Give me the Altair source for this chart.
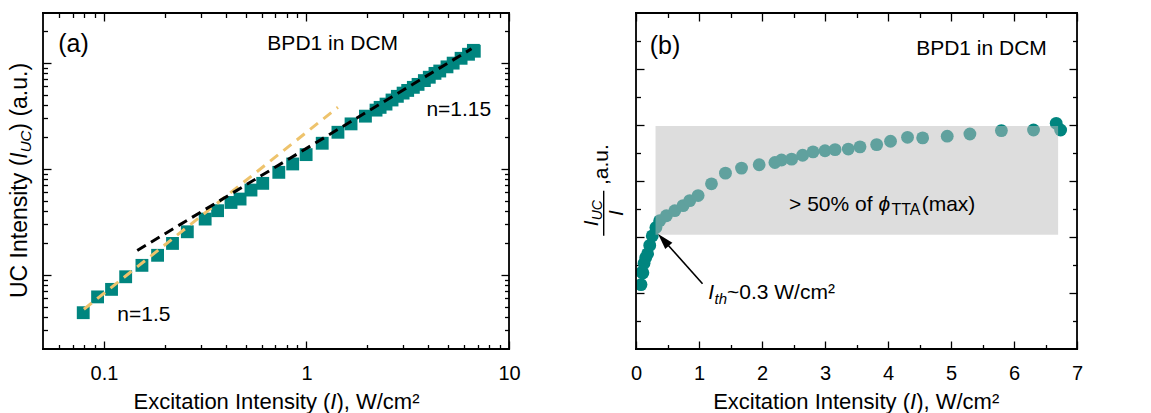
import altair as alt
import pandas as pd

FONT = "Liberation Sans"
TEAL = "#00857f"
ORANGE = "#eec36c"
FRAME_COLOR = "black"

# ---------------- panel (a) data ----------------
a_int = [0.079, 0.093, 0.109, 0.128, 0.154, 0.184, 0.218, 0.258, 0.316, 0.364,
         0.424, 0.47, 0.532, 0.608, 0.73, 0.855, 0.996, 1.196, 1.43, 1.66,
         1.955, 2.205, 2.31, 2.47, 2.645, 2.81, 3.0, 3.16, 3.37, 3.556,
         3.82, 4.04, 4.31, 4.55, 4.94, 5.30, 5.80, 6.31, 6.67, 6.74]
a_uc = [44, 62, 73, 96, 123, 153, 198, 255, 336, 403,
        482, 519, 631, 730, 927, 1112, 1362, 1743, 2213, 2655,
        3140, 3580, 3800, 4080, 4460, 4830, 5180, 5490, 5870, 6260,
        6800, 7310, 7950, 8370, 9160, 9930, 11030, 12040, 13110, 12860]
fit150_x = [0.0796, 1.43]
fit150_y = [47.4, 3810]
fit115_x = [0.146, 6.53]
fit115_y = [170, 13550]

a_x_major = [0.1, 1, 10]
a_x_minor = [0.06, 0.07, 0.08, 0.09, 0.2, 0.3, 0.4, 0.5, 0.6, 0.7, 0.8, 0.9,
             2, 3, 4, 5, 6, 7, 8, 9]
a_y_major = [100, 1000, 10000]
a_y_minor = [30, 40, 50, 60, 70, 80, 90, 200, 300, 400, 500, 600, 700, 800, 900,
             2000, 3000, 4000, 5000, 6000, 7000, 8000, 9000, 20000]

# ---------------- panel (b) data ----------------
b_int = [0.079, 0.093, 0.109, 0.128, 0.154, 0.184, 0.218, 0.258, 0.316, 0.376,
         0.482, 0.615, 0.747, 0.853, 0.986, 1.198, 1.42, 1.675, 1.955, 2.205,
         2.31, 2.47, 2.645, 2.81, 3.0, 3.16, 3.37, 3.556, 3.82, 4.04,
         4.31, 4.55, 4.94, 5.30, 5.80, 6.31, 6.67, 6.74]
b_ratio = [1.15, 1.37, 1.36, 1.53, 1.63, 1.70, 1.85, 2.02, 2.17, 2.29,
           2.38, 2.47, 2.56, 2.65, 2.74, 2.95, 3.14, 3.23, 3.29, 3.33,
           3.375, 3.39, 3.46, 3.52, 3.54, 3.56, 3.57, 3.61, 3.65, 3.71,
           3.78, 3.77, 3.80, 3.84, 3.90, 3.91, 4.03, 3.91]
band_x = [0.31, 6.70]
band_y = [2.04, 3.98]
arrow_tail = [1.056, 1.166]
arrow_head = [0.436, 1.948]

b_x_major = [0, 1, 2, 3, 4, 5, 6, 7]
b_x_minor = [0.5, 1.5, 2.5, 3.5, 4.5, 5.5, 6.5]
b_y_major = [1, 2, 3, 4, 5]
b_y_minor = [0.5, 1.5, 2.5, 3.5, 4.5, 5.5]

W = {' ': 278, '%': 889, '(': 333, ')': 333, ',': 278, '.': 278, '/': 278,
     '=': 584, '>': 584, '~': 584, 'A': 667, 'B': 667, 'C': 722, 'D': 722,
     'E': 667, 'I': 278, 'M': 833, 'P': 667, 'T': 611, 'U': 722, 'W': 944,
     'a': 556, 'c': 500, 'e': 556, 'f': 278, 'h': 556, 'i': 222, 'm': 833,
     'n': 556, 'o': 556, 's': 500, 't': 278, 'u': 556, 'x': 500, 'y': 500,
     '\u00b2': 333, '\u03d5': 620}
for d in "0123456789":
    W[d] = 556


def tw(s, size):
    return sum(W.get(ch, 556) for ch in s) * size / 1000.0


def axis(orient, values, size, labels=False, pad=30, expr=None):
    kw = dict(orient=orient, values=values, tickSize=size, offset=-size,
              domain=False, grid=False, labels=labels, title=None, ticks=True,
              tickColor="black", tickWidth=1.3)
    if labels:
        kw.update(labelFont=FONT, labelFontSize=20, labelColor="black",
                  labelPadding=pad, labelBaseline="alphabetic",
                  labelFlush=False, labelOverlap=False)
        if expr:
            kw["labelExpr"] = expr
    return alt.Axis(**kw)


def data_text(text, x, y, xs, ys, size=21, style="normal", dx=0, dy=0):
    df = pd.DataFrame({"x": [x], "y": [y]})
    return alt.Chart(df).mark_text(
        text=text, font=FONT, fontSize=size, fontStyle=style, align="left",
        baseline="alphabetic", dx=dx, dy=dy, color="black"
    ).encode(x=alt.X("x:Q", scale=xs, axis=None), y=alt.Y("y:Q", scale=ys, axis=None))


def px_text(text, x, y, size=22, style="normal", angle=0):
    return alt.Chart(alt.Data(values=[{}])).mark_text(
        text=text, font=FONT, fontSize=size, fontStyle=style, align="left",
        baseline="alphabetic", angle=angle, color="black"
    ).encode(x=alt.value(x), y=alt.value(y))


def x_title(center, base):
    parts = [("Excitation Intensity (", "normal"), ("I", "italic"), ("), W/cm\u00b2", "normal")]
    size = 22
    total = sum(tw(p, size) for p, _ in parts)
    x0 = center - total / 2
    out = []
    for p, st in parts:
        out.append(px_text(p, x0, base, size, st))
        x0 += tw(p, size)
    return out


def ghost(df, xs, ys, xax, yax):
    return alt.Chart(df).mark_point(opacity=0).encode(
        x=alt.X("x:Q", scale=xs, axis=xax), y=alt.Y("y:Q", scale=ys, axis=yax))


def frame(w, h):
    def rule(**enc):
        return alt.Chart(alt.Data(values=[{}])).mark_rule(
            color=FRAME_COLOR, strokeWidth=1.8, strokeCap="square").encode(**enc)
    return [
        rule(x=alt.value(0), y=alt.value(0), y2=alt.value(h)),
        rule(x=alt.value(w), y=alt.value(0), y2=alt.value(h)),
        rule(y=alt.value(0), x=alt.value(0), x2=alt.value(w)),
        rule(y=alt.value(h), x=alt.value(0), x2=alt.value(w)),
    ]


# ================= panel (a) =================
AW, AH = 466, 336
xs_a = alt.Scale(type="log", domain=[0.05, 10], nice=False)
ys_a = alt.Scale(type="log", domain=[20, 29500], nice=False)
df_a = pd.DataFrame({"x": a_int, "y": a_uc})

lab_a = "datum.value < 1 ? format(datum.value, '.1f') : format(datum.value, 'd')"
squares = alt.Chart(df_a).mark_square(size=165, color=TEAL, opacity=1).encode(
    x=alt.X("x:Q", scale=xs_a, axis=axis("bottom", a_x_major, 8, True, 30, lab_a)),
    y=alt.Y("y:Q", scale=ys_a, axis=axis("left", a_y_major, 8)))

ga1 = ghost(df_a, xs_a, ys_a, axis("bottom", a_x_minor, 4.5), axis("left", a_y_minor, 4.5))
ga2 = ghost(df_a, xs_a, ys_a, axis("top", a_x_major, 8), axis("right", a_y_major, 8))
ga3 = ghost(df_a, xs_a, ys_a, axis("top", a_x_minor, 4.5), axis("right", a_y_minor, 4.5))

orange = alt.Chart(pd.DataFrame({"x": fit150_x, "y": fit150_y})).mark_line(
    color=ORANGE, strokeWidth=3, strokeDash=[10, 7]).encode(
    x=alt.X("x:Q", scale=xs_a, axis=None), y=alt.Y("y:Q", scale=ys_a, axis=None))
black = alt.Chart(pd.DataFrame({"x": fit115_x, "y": fit115_y})).mark_line(
    color="black", strokeWidth=3, strokeDash=[10, 6]).encode(
    x=alt.X("x:Q", scale=xs_a, axis=None), y=alt.Y("y:Q", scale=ys_a, axis=None))

texts_a = [
    data_text("(a)", 0.0594, 12540, xs_a, ys_a, size=25),
    data_text("BPD1 in DCM", 0.641, 13090, xs_a, ys_a, size=21),
    data_text("n=1.15", 3.91, 3185, xs_a, ys_a, size=21),
    data_text("n=1.5", 0.1164, 37.1, xs_a, ys_a, size=21),
]

ytitle_a = []
yy = 285.0
for txt, size, st, shift in [("UC Intensity (", 23, "normal", 0), ("I", 23, "italic", 0),
                             ("UC", 15, "italic", 4), (") (a.u.)", 23, "normal", 0)]:
    ytitle_a.append(px_text(txt, -16 + shift, yy, size, st, angle=270))
    yy -= tw(txt, size)

spacer = alt.Chart(alt.Data(values=[{}])).mark_rule(opacity=0, strokeWidth=1).encode(
    x=alt.value(-42.5), y=alt.value(-12), y2=alt.value(AH))

panel_a = alt.layer(squares, ga1, ga2, ga3, orange, black, *texts_a, *ytitle_a,
                    *x_title(233.5, 396), spacer, *frame(AW, AH)).resolve_axis(
    x="independent", y="independent").properties(width=AW, height=AH)

# ================= panel (b) =================
BW, BH = 441, 336
xs_b = alt.Scale(domain=[0, 7], nice=False)
ys_b = alt.Scale(domain=[0, 6], nice=False)
df_b = pd.DataFrame({"x": b_int, "y": b_ratio})

circles = alt.Chart(df_b).mark_circle(size=165, color=TEAL, opacity=1, clip=True).encode(
    x=alt.X("x:Q", scale=xs_b, axis=axis("bottom", b_x_major, 8, True, 30)),
    y=alt.Y("y:Q", scale=ys_b, axis=axis("left", b_y_major, 8)))
gb1 = ghost(df_b, xs_b, ys_b, axis("bottom", b_x_minor, 4.5), axis("left", b_y_minor, 4.5))
gb2 = ghost(df_b, xs_b, ys_b, axis("top", b_x_major, 8), axis("right", b_y_major, 8))
gb3 = ghost(df_b, xs_b, ys_b, axis("top", b_x_minor, 4.5), axis("right", b_y_minor, 4.5))

band = alt.Chart(pd.DataFrame({"x": [band_x[0]], "x2": [band_x[1]],
                               "y": [band_y[0]], "y2": [band_y[1]]})).mark_rect(
    color="#bcbcbc", opacity=0.51).encode(
    x=alt.X("x:Q", scale=xs_b, axis=None), x2="x2:Q",
    y=alt.Y("y:Q", scale=ys_b, axis=None), y2="y2:Q")

arrow_line = alt.Chart(pd.DataFrame({"x": [arrow_tail[0]], "x2": [arrow_head[0]],
                                     "y": [arrow_tail[1]], "y2": [arrow_head[1]]})).mark_rule(
    color="black", strokeWidth=1.6).encode(
    x=alt.X("x:Q", scale=xs_b, axis=None), x2="x2:Q",
    y=alt.Y("y:Q", scale=ys_b, axis=None), y2="y2:Q")
arrow_tip = alt.Chart(pd.DataFrame({"x": [arrow_head[0]], "y": [arrow_head[1]]})).mark_point(
    shape="M0,-1L0.6,1L-0.6,1Z", size=256, filled=True, color="black", opacity=1,
    angle=318).encode(
    x=alt.X("x:Q", scale=xs_b, axis=None), y=alt.Y("y:Q", scale=ys_b, axis=None))

texts_b = [
    data_text("(b)", 0.218, 5.27, xs_b, ys_b, size=25),
    data_text("BPD1 in DCM", 4.447, 5.25, xs_b, ys_b, size=21),
]
dx = 0.0
for txt, size, st, ddy in [("> 50% of", 21, "normal", 0), ("\u03d5", 21, "italic", 0),
                           ("TTA", 16, "normal", 4), ("(max)", 21, "normal", 0)]:
    texts_b.append(data_text(txt, 2.43, 2.457, xs_b, ys_b, size=size, style=st, dx=dx, dy=ddy))
    dx += tw(txt + (" " if txt == "> 50% of" else ""), size)
dx = 0.0
for txt, size, st, ddy in [("I", 21, "italic", 0), ("th", 15, "italic", 5),
                           ("~0.3 W/cm\u00b2", 21, "normal", 0)]:
    texts_b.append(data_text(txt, 1.145, 0.90, xs_b, ys_b, size=size, style=st, dx=dx, dy=ddy))
    dx += tw(txt, size) + (0.5 if txt == "I" else 0)

ytitle_b = [
    px_text("I", -38.3, 213.2, 21, "italic", 270),
    px_text("UC", -34.3, 213.2 - tw("I", 21), 14, "italic", 270),
    px_text("I", -13.3, 203.1, 21, "italic", 270),
    px_text(",a.u.", -28.3, 172.0, 21, "normal", 270),
]
frac_bar = alt.Chart(alt.Data(values=[{}])).mark_rule(color="black", strokeWidth=1.4).encode(
    x=alt.value(-32.3), y=alt.value(177.7), y2=alt.value(222.7))

panel_b = alt.layer(circles, gb1, gb2, gb3, band, arrow_line, arrow_tip, *texts_b,
                    *ytitle_b, frac_bar, *x_title(220.2, 396), *frame(BW, BH)).resolve_axis(
    x="independent", y="independent").properties(width=BW, height=BH)

chart = alt.hconcat(panel_a, panel_b, spacing=127, bounds="flush").properties(
    padding=0
).configure_view(strokeWidth=0).configure(background="white")

chart.save("out.html", embed_options={"renderer": "svg", "actions": False})
